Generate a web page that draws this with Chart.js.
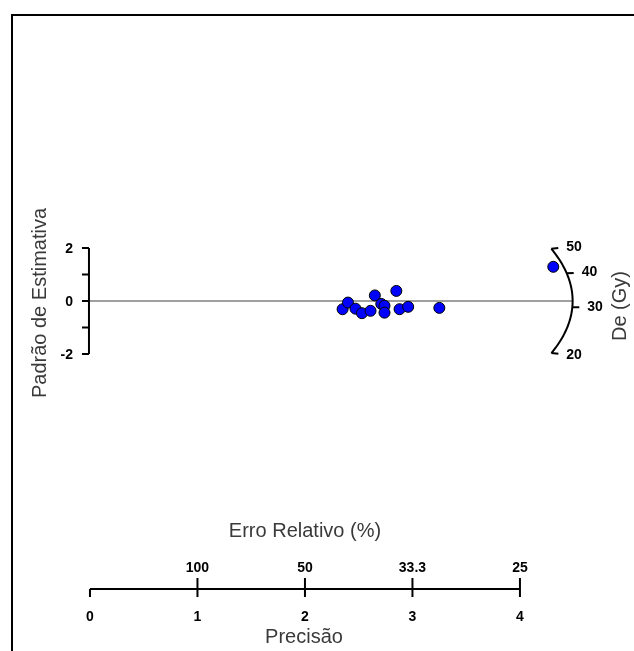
<!DOCTYPE html>
<html>
<head>
<meta charset="utf-8">
<script src="https://cdn.jsdelivr.net/npm/chart.js@4"></script>
<style>
  html, body { margin: 0; padding: 0; background: #fff; }
</style>
</head>
<body>
<canvas id="graficoRadial" width="634" height="651"></canvas>
<script>
// valores (precisao x padrao de estimativa)
const precisao = [2.35, 2.40, 2.47, 2.53, 2.61, 2.65, 2.71, 2.74, 2.74, 2.85, 2.88, 2.96, 3.25, 4.31];
const padrao = [-0.31, -0.06, -0.29, -0.46, -0.37, 0.21, -0.11, -0.18, -0.44, 0.38, -0.31, -0.22, -0.26, 1.29];

const ticksPrecisao = [0, 1, 2, 3, 4];
const ticksErro = ['', '100', '50', '33.3', '25'];
const ticksPadrao = [-2, -1, 0, 1, 2];
const rotulosPadrao = ['-2', '', '0', '', '2'];
const ticksDe = [20, 30, 40, 50];

// geometria do arco (De em Gy)
const z0 = Math.log(31.6);
const arcoA = 4.49;
const arcoB = 6.7;

function pontoArco(de) {
  const s = Math.log(de) - z0;
  const x = 1 / Math.sqrt(1 / (arcoA * arcoA) + (s * s) / (arcoB * arcoB));
  return { x: x, y: s * x };
}

const eixosRadiais = {
  id: 'eixosRadiais',
  beforeDatasetsDraw(chart) {
    const ctx = chart.ctx;
    const sx = chart.scales.x;
    const sy = chart.scales.y;
    const px = v => sx.getPixelForValue(v);
    const py = v => sy.getPixelForValue(v);
    ctx.save();

    // moldura
    ctx.strokeStyle = '#000';
    ctx.lineWidth = 2;
    ctx.beginPath();
    ctx.moveTo(12, 660);
    ctx.lineTo(12, 15);
    ctx.lineTo(640, 15);
    ctx.stroke();

    // linha zero ate o arco
    const centro = pontoArco(Math.exp(z0));
    ctx.strokeStyle = '#7f7f7f';
    ctx.lineWidth = 1.3;
    ctx.beginPath();
    ctx.moveTo(px(0), py(0));
    ctx.lineTo(px(centro.x), py(0));
    ctx.stroke();

    // eixo y
    ctx.strokeStyle = '#000';
    ctx.lineWidth = 2;
    const xEixoY = px(0) - 1;
    ctx.beginPath();
    ctx.moveTo(xEixoY, py(ticksPadrao[0]));
    ctx.lineTo(xEixoY, py(ticksPadrao[ticksPadrao.length - 1]));
    ticksPadrao.forEach(t => {
      ctx.moveTo(xEixoY, py(t));
      ctx.lineTo(xEixoY - 7, py(t));
    });
    ctx.stroke();
    ctx.fillStyle = '#000';
    ctx.font = 'bold 14px "Liberation Sans", Arial, sans-serif';
    ctx.textAlign = 'right';
    ctx.textBaseline = 'middle';
    ticksPadrao.forEach((t, i) => {
      if (rotulosPadrao[i]) ctx.fillText(rotulosPadrao[i], xEixoY - 16, py(t) + 1);
    });

    // eixo x (precisao / erro relativo)
    const yEixoX = 589;
    ctx.beginPath();
    ctx.moveTo(px(ticksPrecisao[0]), yEixoX);
    ctx.lineTo(px(ticksPrecisao[ticksPrecisao.length - 1]), yEixoX);
    ticksPrecisao.forEach((t, i) => {
      ctx.moveTo(px(t), yEixoX + 8);
      ctx.lineTo(px(t), ticksErro[i] ? yEixoX - 11 : yEixoX);
    });
    ctx.stroke();
    ctx.textAlign = 'center';
    ctx.textBaseline = 'alphabetic';
    ticksPrecisao.forEach((t, i) => {
      ctx.fillText(String(t), px(t), 621);
      if (ticksErro[i]) ctx.fillText(ticksErro[i], px(t), 572);
    });

    // arco De
    ctx.lineWidth = 2;
    ctx.beginPath();
    const passos = 80;
    const deMin = ticksDe[0], deMax = ticksDe[ticksDe.length - 1];
    for (let k = 0; k <= passos; k++) {
      const de = deMin * Math.pow(deMax / deMin, k / passos);
      const p = pontoArco(de);
      if (k === 0) ctx.moveTo(px(p.x), py(p.y));
      else ctx.lineTo(px(p.x), py(p.y));
    }
    ctx.stroke();
    const ox = px(0), oy = py(0);
    ctx.textAlign = 'left';
    ctx.textBaseline = 'middle';
    ticksDe.forEach(de => {
      const p = pontoArco(de);
      const x = px(p.x), y = py(p.y);
      const d = Math.hypot(x - ox, y - oy);
      const ux = (x - ox) / d, uy = (y - oy) / d;
      ctx.beginPath();
      ctx.moveTo(x, y);
      ctx.lineTo(x + ux * 7, y + uy * 7);
      ctx.stroke();
      ctx.fillText(String(de), x + ux * 15, y + uy * 15);
    });

    // titulos
    ctx.fillStyle = '#3a3a3a';
    ctx.font = '20px "Liberation Sans", Arial, sans-serif';
    ctx.textAlign = 'center';
    ctx.textBaseline = 'alphabetic';
    ctx.fillText('Erro Relativo (%)', 305, 537);
    ctx.fillText('Precisão', 304, 643);

    ctx.save();
    ctx.translate(46, 303);
    ctx.rotate(-Math.PI / 2);
    ctx.fillText('Padrão de Estimativa', 0, 0);
    ctx.restore();

    ctx.save();
    ctx.translate(626, 306);
    ctx.rotate(-Math.PI / 2);
    ctx.fillText('De (Gy)', 0, 0);
    ctx.restore();

    ctx.restore();
  }
};

const ctx = document.getElementById('graficoRadial').getContext('2d');
new Chart(ctx, {
  type: 'scatter',
  data: {
    datasets: [
      {
        label: 'Amostras',
        data: precisao.map((x, i) => ({ x: x, y: padrao[i] })),
        backgroundColor: '#0000ff',
        borderColor: '#000',
        borderWidth: 1,
        pointRadius: 5.5,
        clip: false
      }
    ]
  },
  options: {
    responsive: false,
    animation: false,
    layout: { padding: 0, autoPadding: false },
    scales: {
      x: { type: 'linear', min: -0.837, max: 5.061, display: false },
      y: { type: 'linear', min: -13.208, max: 11.358, display: false }
    },
    plugins: {
      legend: { display: false },
      tooltip: { enabled: false }
    }
  },
  plugins: [eixosRadiais]
});
</script>
</body>
</html>
